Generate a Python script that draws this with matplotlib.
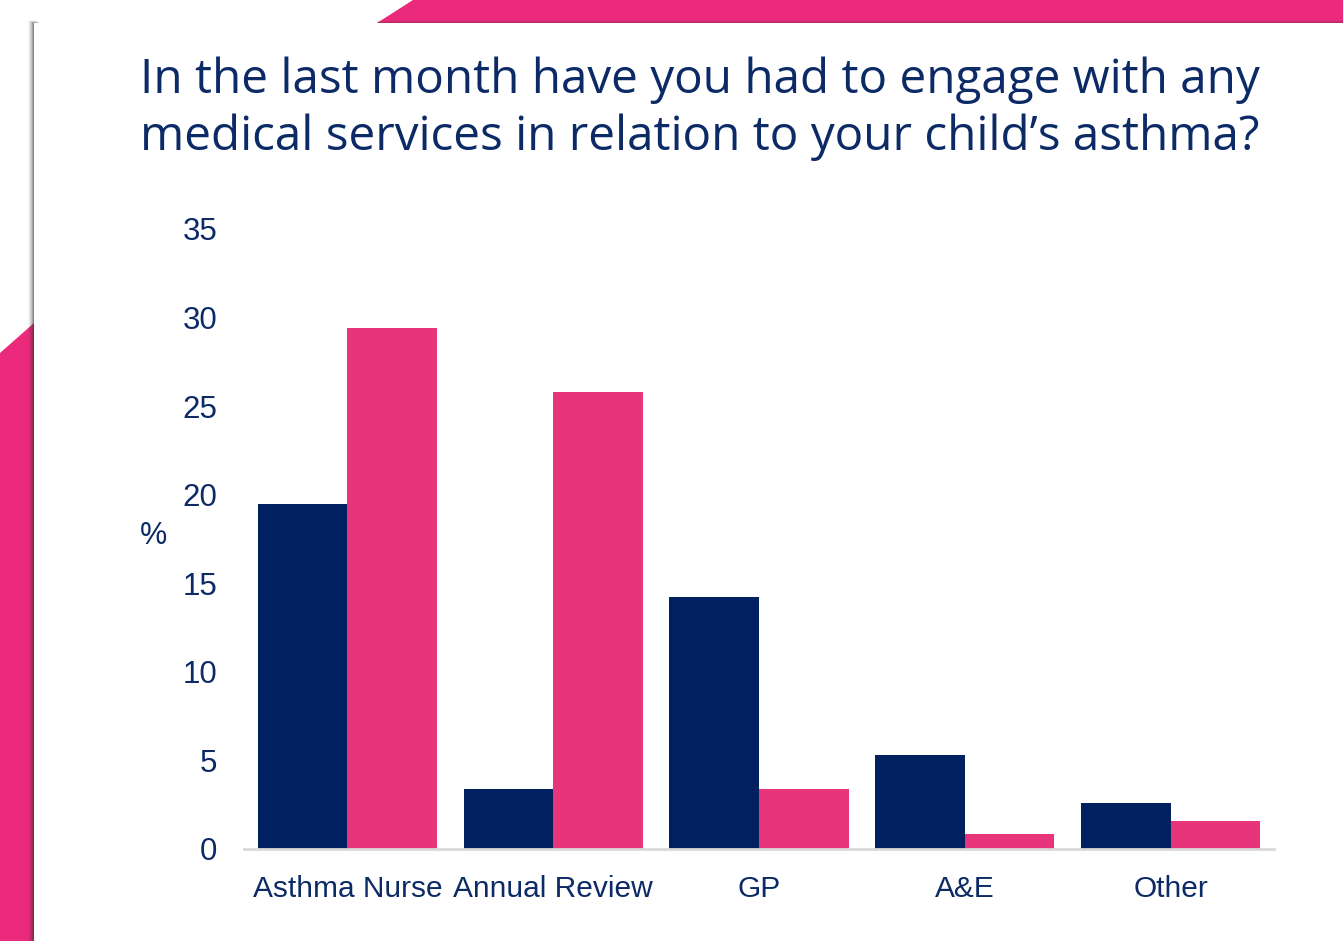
import matplotlib
matplotlib.use("Agg")
import matplotlib.pyplot as plt
import numpy as np
from matplotlib.patches import Polygon, Rectangle

categories = ["Asthma Nurse", "Annual Review", "GP", "A&E", "Other"]
series_navy = [19.5, 3.4, 14.2, 5.3, 2.6]
series_pink = [29.4, 25.8, 3.4, 0.85, 1.6]
yticks = [0, 5, 10, 15, 20, 25, 30, 35]
title = "In the last month have you had to engage with any\nmedical services in relation to your child\u2019s asthma?"

NAVY = "#002060"
PINK = "#E8347A"
TEXT = "#0B2A66"

W, H = 1343, 941
fig = plt.figure(figsize=(W / 100, H / 100), dpi=100)

# background decoration (pixel coordinates)
bg = fig.add_axes([0, 0, 1, 1], zorder=0)
bg.set_xlim(0, W)
bg.set_ylim(H, 0)
bg.axis("off")
bg.add_patch(Polygon([(377, 23), (413, 0), (W, 0), (W, 23)], closed=True, color="#EC2A7B", lw=0))
bg.add_patch(Polygon([(0, 353), (34, 323), (34, H), (0, H)], closed=True, color="#EC2A7B", lw=0))
# card shadow
for i, a in enumerate([0.04, 0.07, 0.10, 0.14, 0.2, 0.26]):
    bg.add_patch(Rectangle((28 + i, 20 + i * 0.5), 7, H, color="#333333", alpha=a, lw=0))
for i, a in enumerate([0.05, 0.1, 0.15]):
    bg.add_patch(Rectangle((377, 20 + i), W, 4, color="#333333", alpha=a, lw=0))
bg.add_patch(Rectangle((34, 23), W - 34, H - 23, color="white", lw=0))

fig.text(140 / W, 1 - 57 / H, title, fontsize=34.3, family="Open Sans", color=TEXT,
         va="top", ha="left", linespacing=1.26)

ax = fig.add_axes([244.5 / W, 92 / H, 1029 / W, 620 / H], zorder=1)
ax.patch.set_alpha(0)
x = np.arange(len(categories))
bw = 0.435
ax.bar(x - bw / 2, series_navy, width=bw, color=NAVY, zorder=2)
ax.bar(x + bw / 2, series_pink, width=bw, color=PINK, zorder=2)
ax.set_xlim(-0.5, len(categories) - 0.5)
ax.set_ylim(0, 35)
ax.set_yticks(yticks)
ax.set_xticks(x)
ax.set_xticklabels(categories)
for s in ["top", "right", "left"]:
    ax.spines[s].set_visible(False)
ax.spines["bottom"].set_color("#D9D9D9")
ax.spines["bottom"].set_linewidth(2)
ax.tick_params(axis="both", length=0, labelsize=21.5, labelcolor=TEXT)
ax.tick_params(axis="y", pad=19.5, labelsize=22.5)
ax.tick_params(axis="x", pad=19)
for lab in ax.get_xticklabels() + ax.get_yticklabels():
    lab.set_family("Liberation Sans")
ax.set_ylabel("%", rotation=0, fontsize=22, family="Liberation Sans", color=TEXT,
              va="center", ha="center")
ax.yaxis.set_label_coords(-91 / 1029, (849 - 536) / 620)

fig.savefig("out.png", dpi=100)
